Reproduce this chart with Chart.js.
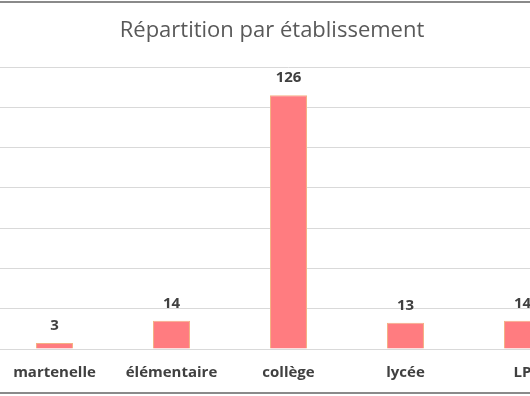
<!DOCTYPE html>
<html>
<head>
<meta charset="utf-8">
<script src="https://cdn.jsdelivr.net/npm/chart.js@4"></script>
<style>
	html, body { margin: 0; padding: 0; background: #fff; overflow: hidden; }
	#frame {
		position: absolute; left: 0; top: 0; width: 530px; height: 396px;
		overflow: hidden;
	}
	#frame::before, #frame::after {
		content: ''; position: absolute; left: 0; width: 530px; height: 2px;
		background: #8a8a8a; z-index: 2;
	}
	#frame::before { top: 1px; }
	#frame::after { top: 392px; }
	#wrap { position: absolute; left: -40px; top: 0; width: 624px; height: 396px; }
</style>
</head>
<body>
<div id="frame">
	<div id="wrap"><canvas id="chart" width="624" height="396"></canvas></div>
</div>
<script>
// Répartition par établissement

const titleText = 'Répartition par établissement';
const categories = ['martenelle', 'élémentaire', 'collège', 'lycée', 'LP'];
const effectifs = [3, 14, 126, 13, 14];
const yMax = 140;
const yStep = 20;

// value above each bar
const valueLabels = {
	id: 'valueLabels',
	afterDatasetsDraw(chart) {
		const ctx = chart.ctx;
		const meta = chart.getDatasetMeta(0);
		ctx.save();
		ctx.font = 'bold 15px "Open Sans"';
		ctx.fillStyle = '#404040';
		ctx.textAlign = 'center';
		ctx.textBaseline = 'middle';
		meta.data.forEach((bar, i) => {
			ctx.fillText(effectifs[i], bar.x, bar.y - 17);
		});
		ctx.restore();
	},
};

// the original frame is cropped, so the title is not centred on the plot
const chartTitle = {
	id: 'chartTitle',
	afterDraw(chart) {
		const ctx = chart.ctx;
		ctx.save();
		ctx.font = '22px "Open Sans"';
		ctx.fillStyle = '#595959';
		ctx.textAlign = 'center';
		ctx.textBaseline = 'middle';
		ctx.fillText(titleText, 312, 31);
		ctx.restore();
	},
};

const chart = new Chart(document.getElementById('chart'), {
	type: 'bar',
	data: {
		labels: categories,
		datasets: [
			{
				data: effectifs,
				backgroundColor: '#FF7C80',
				borderColor: '#F4B183',
				borderWidth: 1,
				barPercentage: 0.316,
				categoryPercentage: 1,
			},
		],
	},
	options: {
		responsive: false,
		animation: false,
		layout: {
			padding: { left: 36, right: 3, top: 67, bottom: 0 },
		},
		scales: {
			x: {
				grid: { display: false, drawTicks: false },
				border: { display: true, color: '#d9d9d9', width: 1 },
				ticks: {
					color: '#404040',
					font: { family: 'Open Sans', size: 15, weight: 'bold', lineHeight: 1 },
					padding: 16,
					maxRotation: 0,
					autoSkip: false,
				},
			},
			y: {
				min: 0,
				max: yMax,
				ticks: { display: false, stepSize: yStep },
				grid: { color: '#d9d9d9', drawTicks: false },
				border: { display: false },
			},
		},
		plugins: {
			legend: { display: false },
			tooltip: { enabled: false },
			title: { display: false },
		},
	},
	plugins: [valueLabels, chartTitle],
});
</script>
</body>
</html>
